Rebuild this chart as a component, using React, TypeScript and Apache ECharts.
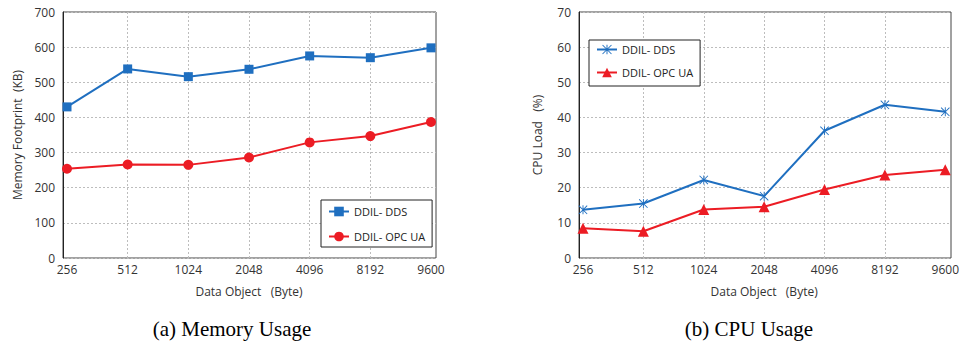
import React, { useEffect, useRef } from "react";
import * as echarts from "echarts";

const categories = ["256", "512", "1024", "2048", "4096", "8192", "9600"];
const memDDS = [430, 538, 516, 537, 575, 570, 598];
const memOPC = [254, 266, 265, 286, 329, 347, 387];
const cpuDDS = [13.7, 15.5, 22.2, 17.6, 36.2, 43.6, 41.6];
const cpuOPC = [8.5, 7.6, 13.8, 14.6, 19.5, 23.6, 25.1];
const memTicks = { min: 0, max: 700, interval: 100 };
const cpuTicks = { min: 0, max: 70, interval: 10 };

const BLUE = "#1f6fc0";
const RED = "#ec1c24";
const FONT = "Open Sans";

const STAR =
  "path://M9 0 L11 0 L11 20 L9 20 Z M0 1.4 L1.4 0 L20 18.6 L18.6 20 Z M18.6 0 L20 1.4 L1.4 20 L0 18.6 Z";

export default function App() {
  const ref = useRef<HTMLDivElement>(null);
  useEffect(() => {
    if (!ref.current) return;
    const chart = echarts.init(ref.current, undefined, { renderer: "svg" });
    const split = { show: true, lineStyle: { color: "#bdbdbd", type: [2, 2] as any, width: 1 } };
    const vSplit = {
      show: true,
      interval: (i: number) => i !== 0 && i !== categories.length - 1,
      lineStyle: { color: "#bdbdbd", type: [2, 2] as any, width: 1 },
    };
    const labelStyle = { fontFamily: FONT, fontSize: 12, color: "#333" };
    const nameStyle = { fontFamily: FONT, fontSize: 12, color: "#333" };
    const catAxis = (gridIndex: number) => ({
      type: "category",
      gridIndex,
      data: categories,
      boundaryGap: false,
      axisLine: { show: false },
      axisTick: { show: false },
      axisLabel: { ...labelStyle, margin: 5, interval: 0 },
      splitLine: vSplit,
      name: "Data Object   (Byte)",
      nameLocation: "middle",
      nameGap: 27,
      nameTextStyle: nameStyle,
    });
    const legendBase = {
      orient: "vertical",
      backgroundColor: "#fff",
      borderColor: "#222",
      borderWidth: 1,
      borderRadius: 0,
      itemWidth: 20,
      itemHeight: 12,
      itemGap: 14,
      textStyle: { fontFamily: FONT, fontSize: 11, color: "#222" },
    };
    chart.setOption({
      animation: false,
      grid: [
        { left: 63, right: 526, top: 12, bottom: 86, show: true, borderColor: "#444", borderWidth: 1, backgroundColor: "transparent" },
        { left: 67, right: 531, top: 12, bottom: 86 },
        { left: 579, right: 11, top: 12, bottom: 86, show: true, borderColor: "#444", borderWidth: 1, backgroundColor: "transparent" },
        { left: 583, right: 15, top: 12, bottom: 86 },
      ],
      xAxis: [
        { type: "value", gridIndex: 0, show: false },
        catAxis(1),
        { type: "value", gridIndex: 2, show: false },
        catAxis(3),
      ],
      yAxis: [
        {
          type: "value",
          gridIndex: 0,
          ...memTicks,
          axisLine: { show: true, lineStyle: { color: "#222" } },
          axisTick: { show: false },
          axisLabel: { ...labelStyle, margin: 8 },
          splitLine: split,
          name: "Memory Footprint  (KB)",
          nameLocation: "middle",
          nameGap: 40,
          nameTextStyle: nameStyle,
        },
        { type: "value", gridIndex: 1, ...memTicks, show: false, splitLine: { show: false } },
        {
          type: "value",
          gridIndex: 2,
          ...cpuTicks,
          axisLine: { show: true, lineStyle: { color: "#222" } },
          axisTick: { show: false },
          axisLabel: { ...labelStyle, margin: 8 },
          splitLine: split,
          name: "CPU Load   (%)",
          nameLocation: "middle",
          nameGap: 36,
          nameTextStyle: nameStyle,
        },
        { type: "value", gridIndex: 3, ...cpuTicks, show: false, splitLine: { show: false } },
      ],
      legend: [
        {
          ...legendBase,
          left: 321,
          top: 200,
          padding: [6, 7, 5, 7],
          data: ["DDIL- DDS", "DDIL- OPC UA"],
        },
        {
          ...legendBase,
          left: 589,
          top: 40,
          padding: [4, 7, 8, 7],
          itemGap: 12,
          data: ["DDIL- DDS (b)", "DDIL- OPC UA (b)"],
          formatter: (n: string) => n.replace(" (b)", ""),
        },
      ],
      series: [
        {
          name: "DDIL- DDS",
          type: "line",
          xAxisIndex: 1,
          yAxisIndex: 1,
          data: memDDS,
          symbol: "rect",
          symbolSize: 9,
          color: BLUE,
          lineStyle: { width: 2, color: BLUE },
          itemStyle: { color: BLUE },
        },
        {
          name: "DDIL- OPC UA",
          type: "line",
          xAxisIndex: 1,
          yAxisIndex: 1,
          data: memOPC,
          symbol: "circle",
          symbolSize: 10,
          color: RED,
          lineStyle: { width: 2, color: RED },
          itemStyle: { color: RED },
        },
        {
          name: "DDIL- DDS (b)",
          type: "line",
          xAxisIndex: 3,
          yAxisIndex: 3,
          data: cpuDDS,
          symbol: STAR,
          symbolSize: 9,
          color: BLUE,
          lineStyle: { width: 2, color: BLUE },
          itemStyle: { color: BLUE },
        },
        {
          name: "DDIL- OPC UA (b)",
          type: "line",
          xAxisIndex: 3,
          yAxisIndex: 3,
          data: cpuOPC,
          symbol: "triangle",
          symbolSize: 11,
          color: RED,
          lineStyle: { width: 2, color: RED },
          itemStyle: { color: RED },
        },
      ],
      graphic: [
        {
          type: "text",
          x: 232,
          y: 329,
          style: {
            text: "(a) Memory Usage",
            font: '21px "Liberation Serif"',
            fill: "#000",
            textAlign: "center",
            textVerticalAlign: "middle",
          },
        },
        {
          type: "text",
          x: 749,
          y: 329,
          style: {
            text: "(b) CPU Usage",
            font: '21px "Liberation Serif"',
            fill: "#000",
            textAlign: "center",
            textVerticalAlign: "middle",
          },
        },
      ],
    });
    return () => chart.dispose();
  }, []);
  return (
    <div
      ref={ref}
      style={{ position: "absolute", left: 0, top: 0, width: 962, height: 344, background: "#fff" }}
    />
  );
}
